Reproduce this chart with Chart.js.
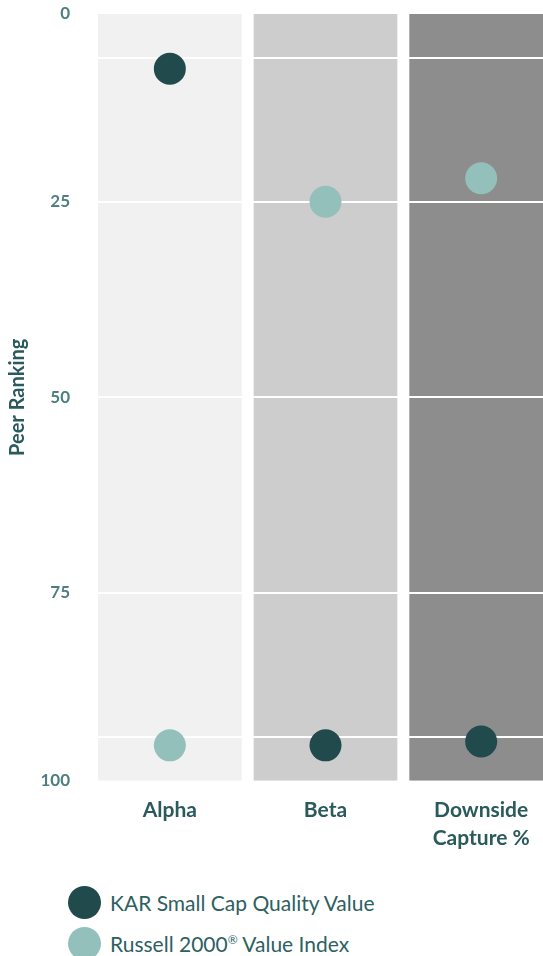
<!DOCTYPE html>
<html>
<head>
<meta charset="utf-8">
<script src="https://cdn.jsdelivr.net/npm/chart.js@4.4.0/dist/chart.umd.min.js"></script>
<style>
    html, body { margin: 0; padding: 0; background: #fff; overflow: hidden; width: 543px; height: 956px; }
    #wrap { position: relative; width: 560px; height: 860px; }
    .legend { position: absolute; left: 68px; font-family: Lato, sans-serif; font-size: 21px; color: #2e5f61; }
    .legend-item { display: flex; align-items: center; height: 41px; }
    .legend-dot { width: 33px; height: 33px; border-radius: 50%; margin-right: 9px; }
    .legend sup { font-size: 12px; }
</style>
</head>
<body>
<div id="wrap"><canvas id="chart-peer" width="560" height="860"></canvas></div>
<div class="legend" id="legend" style="top: 882px;"></div>
<script>
// Peer ranking chart

const categorias = ['Alpha', 'Beta', ['Downside', 'Capture %']];
const seriesNombres = ['KAR Small Cap Quality Value', 'Russell 2000\u00AE Value Index'];
const seriesColores = ['#214a4c', '#94c0bb'];
const karValores = [8, 94.5, 94];
const russellValores = [94.5, 25, 22];

const tickValores = [1, 25, 50, 75, 99];
const tickEtiquetas = ['0', '25', '50', '75', '100'];
const lineasGuia = [6.6, 93.4];

const panelColores = ['#f1f1f1', '#cdcdcd', '#8d8d8d'];

const panelesPlugin = {
    id: 'paneles',
    beforeDraw(chart) {
        const { ctx, chartArea, scales } = chart;
        const x = scales.x;
        const ancho = chartArea.width / categorias.length;
        const gap = 12;
        ctx.save();
        categorias.forEach((c, i) => {
            const cx = x.getPixelForValue(i);
            ctx.fillStyle = panelColores[i];
            ctx.fillRect(cx - ancho / 2 + gap / 2, chartArea.top, ancho - gap, chartArea.height);
        });
        ctx.restore();
    },
};

const chartPeer = new Chart(document.getElementById('chart-peer'), {
    type: 'line',
    data: {
        labels: categorias,
        datasets: [
            {
                label: seriesNombres[0],
                data: karValores,
                showLine: false,
                pointRadius: 16,
                pointHoverRadius: 16,
                pointBackgroundColor: seriesColores[0],
                pointBorderWidth: 0,
            },
            {
                label: seriesNombres[1],
                data: russellValores,
                showLine: false,
                pointRadius: 16,
                pointHoverRadius: 16,
                pointBackgroundColor: seriesColores[1],
                pointBorderWidth: 0,
            },
        ],
    },
    options: {
        responsive: false,
        animation: false,
        layout: { autoPadding: false, padding: { top: 14, right: 1, left: 0, bottom: 0 } },
        plugins: {
            legend: { display: false },
            tooltip: { enabled: false },
        },
        scales: {
            x: {
                offset: true,
                afterFit: scale => { scale.paddingLeft = 0; scale.paddingRight = 0; },
                grid: { display: false },
                border: { display: false },
                ticks: {
                    color: '#2a5a5c',
                    padding: 8,
                    maxRotation: 0,
                    font: { family: 'Lato', size: 21, weight: 'bold', lineHeight: 1.32 },
                },
            },
            y: {
                reverse: true,
                min: 1,
                max: 99,
                afterFit: scale => {
                    scale.width = 92;
                    scale.paddingTop = 0;
                    scale.paddingBottom = 0;
                },
                afterBuildTicks: scale => {
                    scale.ticks = [...tickValores, ...lineasGuia].sort((a, b) => a - b).map(v => ({ value: v }));
                },
                border: { display: false },
                grid: {
                    drawTicks: true,
                    tickLength: 22,
                    tickColor: 'rgba(0,0,0,0)',
                    lineWidth: 2,
                    color: c => (c.tick && (c.tick.value === 1 || c.tick.value === 99)) ? 'rgba(0,0,0,0)' : '#ffffff',
                },
                ticks: {
                    autoSkip: false,
                    padding: 0,
                    color: '#4e7f80',
                    font: { family: 'Lato', size: 17, weight: 'bold' },
                    callback: v => {
                        const i = tickValores.indexOf(v);
                        return i >= 0 ? tickEtiquetas[i] : '';
                    },
                },
                title: {
                    display: true,
                    text: 'Peer Ranking',
                    color: '#2a5a5c',
                    padding: { top: 6, bottom: 0 },
                    font: { family: 'Lato', size: 20, weight: 'bold' },
                },
            },
        },
    },
    plugins: [panelesPlugin],
});

// HTML legend
const legendEl = document.getElementById('legend');
seriesNombres.forEach((n, i) => {
    const item = document.createElement('div');
    item.className = 'legend-item';
    item.innerHTML = '<span class="legend-dot" style="background:' + seriesColores[i] + '"></span><span>' + n.replace('\u00AE', '<sup>\u00AE</sup>') + '</span>';
    legendEl.appendChild(item);
});
</script>
</body>
</html>
